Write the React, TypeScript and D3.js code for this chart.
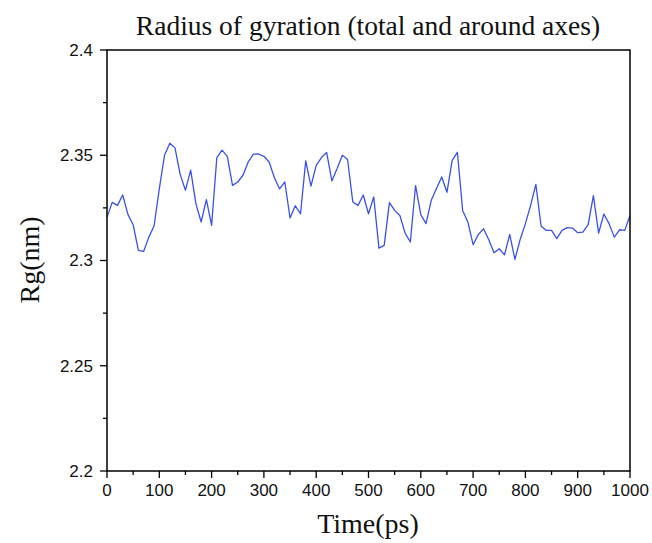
import React from "react";
import * as d3 from "d3";

const times: number[] = d3.range(0, 1001, 10);
const rgValues: number[] = [
  2.3206, 2.3276, 2.3262, 2.3311, 2.3219, 2.317, 2.3048, 2.3043, 2.3111, 2.3164,
  2.334, 2.35, 2.3557, 2.3535, 2.3408, 2.3334, 2.3429, 2.327, 2.3183, 2.3289,
  2.3167, 2.3489, 2.3524, 2.3495, 2.3357, 2.3373, 2.3405, 2.3468, 2.3505, 2.3506,
  2.3495, 2.3468, 2.3394, 2.334, 2.3373, 2.3202, 2.326, 2.3222, 2.3473, 2.3353,
  2.3452, 2.3489, 2.3513, 2.3378, 2.3437, 2.35, 2.348, 2.3278, 2.3262, 2.3311,
  2.3222, 2.3302, 2.3059, 2.3072, 2.3275, 2.3238, 2.3214, 2.313, 2.3088, 2.3356,
  2.3218, 2.3175, 2.3286, 2.3342, 2.3397, 2.3324, 2.3476, 2.3514, 2.3238, 2.3183,
  2.3075, 2.3123, 2.3151, 2.3099, 2.3037, 2.3056, 2.3027, 2.3124, 2.3005, 2.31,
  2.3175, 2.3262, 2.3362, 2.3164, 2.3143, 2.3143, 2.3104, 2.3143, 2.3156, 2.3154,
  2.3132, 2.3135, 2.317, 2.3308, 2.313, 2.3221, 2.3175, 2.3111, 2.3146, 2.3143,
  2.3214,
];
const xTicks: number[] = [0, 100, 200, 300, 400, 500, 600, 700, 800, 900, 1000];
const xMinorTicks: number[] = [50, 150, 250, 350, 450, 550, 650, 750, 850, 950];
const yTicks: number[] = [2.2, 2.25, 2.3, 2.35, 2.4];
const yMinorTicks: number[] = [2.225, 2.275, 2.325, 2.375];

const W = 652;
const H = 543;
const left = 107;
const right = 630;
const top = 50;
const bottom = 471;

export default function App() {
  const x = d3.scaleLinear().domain([0, 1000]).range([left, right]);
  const y = d3.scaleLinear().domain([2.2, 2.4]).range([bottom, top]);
  const line = d3
    .line<number>()
    .x((_, i) => x(times[i]))
    .y((d) => y(d));
  const path = line(rgValues) || "";
  const fmtY = (v: number) => {
    const s = d3.format(".2f")(v);
    return s.replace(/0$/, "");
  };
  const sans = "'Liberation Sans', Arial, sans-serif";
  const serif = "'Liberation Serif', 'Times New Roman', serif";
  return (
    <svg
      width={W}
      height={H}
      style={{ position: "absolute", left: 0, top: 0, background: "#fff" }}
    >
      <rect x={0} y={0} width={W} height={H} fill="#fff" />
      <path d={path} fill="none" stroke="#3a52e4" strokeWidth={1.3} strokeLinejoin="round" />
      <rect
        x={left}
        y={top}
        width={right - left}
        height={bottom - top}
        fill="none"
        stroke="#000"
        strokeWidth={1.5}
      />
      {yTicks.map((t) => (
        <g key={"y" + t}>
          <line x1={left - 7} x2={left} y1={y(t)} y2={y(t)} stroke="#000" strokeWidth={1.3} />
          <text
            x={left - 14}
            y={y(t)}
            dy="0.35em"
            textAnchor="end"
            fontFamily={sans}
            fontSize={17}
            fill="#111"
          >
            {fmtY(t)}
          </text>
        </g>
      ))}
      {yMinorTicks.map((t) => (
        <line key={"ym" + t} x1={left - 4} x2={left} y1={y(t)} y2={y(t)} stroke="#000" strokeWidth={1.3} />
      ))}
      {xTicks.map((t) => (
        <g key={"x" + t}>
          <line x1={x(t)} x2={x(t)} y1={bottom} y2={bottom + 7} stroke="#000" strokeWidth={1.3} />
          <text
            x={x(t)}
            y={bottom + 25}
            textAnchor="middle"
            fontFamily={sans}
            fontSize={17}
            fill="#111"
          >
            {t}
          </text>
        </g>
      ))}
      {xMinorTicks.map((t) => (
        <line key={"xm" + t} x1={x(t)} x2={x(t)} y1={bottom} y2={bottom + 4} stroke="#000" strokeWidth={1.3} />
      ))}
      <text
        x={368}
        y={35}
        textAnchor="middle"
        fontFamily={serif}
        fontSize={27.5}
        fill="#111"
      >
        Radius of gyration (total and around axes)
      </text>
      <text
        x={368}
        y={533}
        textAnchor="middle"
        fontFamily={serif}
        fontSize={28}
        fill="#111"
      >
        Time(ps)
      </text>
      <text
        transform={`translate(39, 260) rotate(-90)`}
        textAnchor="middle"
        fontFamily={serif}
        fontSize={28}
        fill="#111"
      >
        Rg(nm)
      </text>
    </svg>
  );
}
